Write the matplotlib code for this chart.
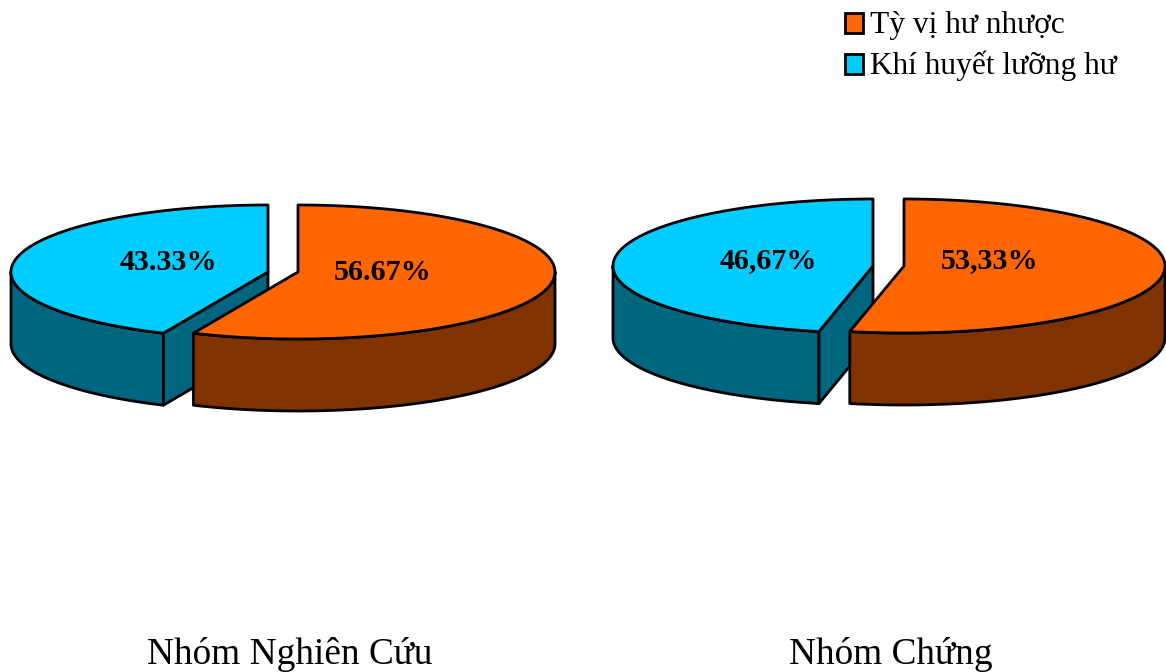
#!/usr/bin/env python
"""Two exploded 3-D style pies: syndrome shares per study group."""
import numpy as np
import matplotlib

matplotlib.use("Agg")
import matplotlib.pyplot as plt
from matplotlib.patches import Polygon, Rectangle

W, H = 1166, 672

series_names = ["Tỳ vị hư nhược", "Khí huyết lưỡng hư"]
groups = ["Nhóm Nghiên Cứu", "Nhóm Chứng"]
values_study = [56.67, 43.33]
values_control = [53.33, 46.67]
labels_study = ["56.67%", "43.33%"]
labels_control = ["53,33%", "46,67%"]

TOP = ["#FF6600", "#00CCFF"]
SIDE = ["#803300", "#006680"]
LW = 2.0
DEPTH = 72


def rim(c, a, b, t0, t1):
    # t measured clockwise from 12 o'clock, in degrees
    t = np.radians(np.linspace(t0, t1, max(int(abs(t1 - t0)) * 2, 2)))
    return np.column_stack([c[0] + a * np.sin(t), c[1] - b * np.cos(t)])


def draw_pie(ax, values, texts, c_first, a_first, c_second, a_second, b, text_xy):
    split = 360.0 * values[0] / sum(values)

    # second slice goes first, the first slice's wall overlaps it
    arc = rim(c_second, a_second, b, split, 360)
    low = rim(c_second, a_second, b, split, max(split, 270)) + [0, DEPTH]
    high = rim(c_second, a_second, b, split, max(split, 270))
    ax.add_patch(Polygon(np.vstack([high, low[::-1]]), fc=SIDE[1], ec="k", lw=LW, joinstyle="round"))
    face = np.array([c_second, arc[0], arc[0] + [0, DEPTH], np.array(c_second) + [0, DEPTH]])
    ax.add_patch(Polygon(face, fc=SIDE[1], ec="k", lw=LW, joinstyle="round"))
    ax.add_patch(Polygon(np.vstack([[c_second], arc]), fc=TOP[1], ec="k", lw=LW, joinstyle="round"))

    arc = rim(c_first, a_first, b, 0, split)
    wall = rim(c_first, a_first, b, 90, split)
    ax.add_patch(Polygon(np.vstack([wall, (wall + [0, DEPTH])[::-1]]), fc=SIDE[0], ec="k", lw=LW, joinstyle="round"))
    ax.add_patch(Polygon(np.vstack([[c_first], arc]), fc=TOP[0], ec="k", lw=LW, joinstyle="round"))

    for s, (x, y) in zip(texts, text_xy):
        ax.text(x, y, s, ha="center", va="center", fontsize=21.6, fontweight="bold", color="k")


def main():
    plt.rcParams["font.family"] = ["Liberation Serif", "DejaVu Serif"]
    fig = plt.figure(figsize=(W / 100, H / 100), dpi=100)
    ax = fig.add_axes([0, 0, 1, 1])
    ax.set_xlim(0, W)
    ax.set_ylim(H, 0)
    ax.axis("off")

    draw_pie(ax, values_study, labels_study, (298, 272), 257, (268, 272), 257, 67,
             [(382.5, 272), (168, 263)])
    draw_pie(ax, values_control, labels_control, (904, 266), 261, (873, 266), 260, 67,
             [(990, 261), (768, 261)])

    ax.text(290, 654, groups[0], ha="center", va="center", fontsize=26.8)
    ax.text(890.5, 655, groups[1], ha="center", va="center", fontsize=26.8)

    for name, colour, y in zip(series_names, TOP, (23, 64)):
        ax.add_patch(Rectangle((845, y - 10), 18, 20, fc=colour, ec="k", lw=LW))
        ax.text(870, y + 2, name, ha="left", va="center", fontsize=22.6)

    fig.savefig("out.png", dpi=100, facecolor="white")


if __name__ == "__main__":
    main()
